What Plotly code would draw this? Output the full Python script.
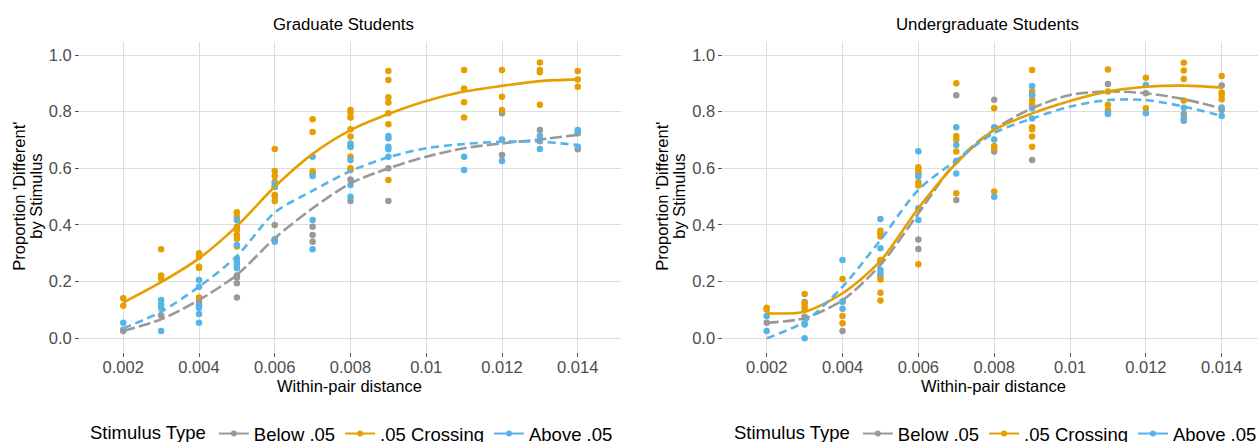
import plotly.graph_objects as go

# ---------------- data ----------------
categories = ["Below .05", ".05 Crossing", "Above .05"]
colors = ["#999999", "#E69F00", "#56B4E9"]
panel_titles = ["Graduate Students", "Undergraduate Students"]

x_tick_vals = [0.002, 0.004, 0.006, 0.008, 0.010, 0.012, 0.014]
x_tick_text = ["0.002", "0.004", "0.006", "0.008", "0.01", "0.012", "0.014"]
y_tick_vals = [0.0, 0.2, 0.4, 0.6, 0.8, 1.0]
y_tick_text = ["0.0", "0.2", "0.4", "0.6", "0.8", "1.0"]

# Graduate students - points
grad_below_x = [0.002, 0.002, 0.003, 0.004, 0.004, 0.005, 0.005, 0.005, 0.005, 0.006, 0.006, 0.006,
                0.007, 0.007, 0.007, 0.008, 0.008, 0.008, 0.009, 0.009, 0.012, 0.012, 0.013, 0.013,
                0.014, 0.014]
grad_below_y = [0.026, 0.030, 0.081, 0.130, 0.120, 0.222, 0.215, 0.194, 0.144, 0.500, 0.400, 0.350,
                0.394, 0.365, 0.341, 0.594, 0.561, 0.485, 0.600, 0.485, 0.794, 0.647, 0.735, 0.696,
                0.724, 0.667]

grad_cross_x = [0.002, 0.002, 0.003, 0.003, 0.003, 0.004, 0.004, 0.004, 0.004, 0.004,
                0.005, 0.005, 0.005, 0.005, 0.005, 0.005, 0.005,
                0.006, 0.006, 0.006, 0.006, 0.006, 0.006, 0.006,
                0.007, 0.007, 0.007, 0.007,
                0.008, 0.008, 0.008, 0.008, 0.008, 0.008, 0.008, 0.008,
                0.009, 0.009, 0.009, 0.009, 0.009, 0.009, 0.009,
                0.011, 0.011, 0.011, 0.011, 0.012, 0.012, 0.012,
                0.013, 0.013, 0.013, 0.013, 0.014, 0.014, 0.014]
grad_cross_y = [0.141, 0.115, 0.314, 0.222, 0.211, 0.300, 0.288, 0.253, 0.248, 0.144,
                0.445, 0.429, 0.394, 0.382, 0.365, 0.351, 0.324,
                0.668, 0.591, 0.573, 0.553, 0.535, 0.506, 0.485,
                0.773, 0.728, 0.590, 0.582,
                0.806, 0.795, 0.779, 0.738, 0.712, 0.676, 0.641, 0.600,
                0.944, 0.912, 0.851, 0.832, 0.794, 0.756, 0.559,
                0.947, 0.882, 0.833, 0.779, 0.947, 0.853, 0.806,
                0.974, 0.947, 0.939, 0.824, 0.944, 0.914, 0.888]

grad_above_x = [0.002, 0.003, 0.003, 0.003, 0.003,
                0.004, 0.004, 0.004, 0.004, 0.004, 0.004,
                0.005, 0.005, 0.005, 0.005, 0.005, 0.005,
                0.006, 0.006, 0.006, 0.006, 0.007, 0.007, 0.007, 0.007,
                0.008, 0.008, 0.008, 0.008, 0.008,
                0.009, 0.009, 0.009, 0.009, 0.009,
                0.011, 0.011, 0.012, 0.012, 0.013, 0.013, 0.014, 0.014, 0.014]
grad_above_y = [0.055, 0.135, 0.120, 0.108, 0.026,
                0.206, 0.182, 0.114, 0.108, 0.086, 0.055,
                0.418, 0.329, 0.282, 0.271, 0.259, 0.247,
                0.545, 0.535, 0.349, 0.341, 0.641, 0.573, 0.418, 0.314,
                0.688, 0.676, 0.629, 0.541, 0.500,
                0.714, 0.706, 0.676, 0.667, 0.641,
                0.641, 0.594, 0.702, 0.626, 0.714, 0.668, 0.735, 0.729, 0.676]

# Undergraduate students - points
ug_below_x = [0.002, 0.003, 0.003, 0.004, 0.004, 0.005, 0.006, 0.006, 0.006, 0.007, 0.007,
              0.008, 0.008, 0.009, 0.011, 0.012, 0.013, 0.013, 0.014, 0.014]
ug_below_y = [0.055, 0.128, 0.076, 0.129, 0.026, 0.271, 0.582, 0.349, 0.315, 0.858, 0.488,
              0.842, 0.659, 0.629, 0.898, 0.865, 0.792, 0.768, 0.892, 0.806]

ug_cross_x = [0.002, 0.002, 0.003, 0.003, 0.003, 0.003, 0.004, 0.004, 0.004,
              0.005, 0.005, 0.005, 0.005, 0.005, 0.005, 0.005, 0.005,
              0.006, 0.006, 0.006, 0.006, 0.006,
              0.007, 0.007, 0.007, 0.007, 0.007,
              0.008, 0.008, 0.008, 0.008,
              0.009, 0.009, 0.009, 0.009, 0.009, 0.009, 0.009, 0.009, 0.009,
              0.011, 0.011, 0.011, 0.011, 0.012, 0.012,
              0.013, 0.013, 0.013, 0.013, 0.014, 0.014, 0.014, 0.014]
ug_cross_y = [0.108, 0.102, 0.156, 0.124, 0.112, 0.102, 0.209, 0.079, 0.053,
              0.380, 0.371, 0.359, 0.276, 0.218, 0.208, 0.161, 0.133,
              0.604, 0.594, 0.551, 0.539, 0.261,
              0.900, 0.714, 0.702, 0.659, 0.512,
              0.812, 0.679, 0.671, 0.518,
              0.947, 0.871, 0.859, 0.841, 0.824, 0.745, 0.738, 0.712, 0.676,
              0.949, 0.871, 0.824, 0.806, 0.920, 0.812,
              0.973, 0.945, 0.915, 0.839, 0.926, 0.868, 0.859, 0.844]

ug_above_x = [0.002, 0.002, 0.003, 0.003, 0.003, 0.004, 0.004, 0.004,
              0.005, 0.005, 0.005, 0.005, 0.006, 0.006, 0.006, 0.006,
              0.007, 0.007, 0.007, 0.007, 0.008, 0.008, 0.008,
              0.009, 0.009, 0.009, 0.009, 0.011, 0.011, 0.012, 0.012,
              0.013, 0.013, 0.014, 0.014]
ug_above_y = [0.079, 0.026, 0.053, 0.049, 0.000, 0.276, 0.130, 0.104,
              0.421, 0.318, 0.241, 0.229, 0.660, 0.571, 0.459, 0.418,
              0.745, 0.682, 0.626, 0.582, 0.745, 0.702, 0.500,
              0.891, 0.859, 0.812, 0.776, 0.794, 0.792, 0.894, 0.794,
              0.814, 0.776, 0.815, 0.785]

# Smoothed fits
smooth_x = [0.002, 0.003, 0.004, 0.005, 0.006, 0.007, 0.008, 0.009, 0.010, 0.011, 0.012, 0.013, 0.014]
grad_below_fit = [0.026, 0.067, 0.135, 0.224, 0.353, 0.459, 0.547, 0.600, 0.641, 0.671, 0.688, 0.702, 0.718]
grad_cross_fit = [0.126, 0.198, 0.282, 0.396, 0.535, 0.651, 0.735, 0.792, 0.838, 0.871, 0.891, 0.908, 0.914]
grad_above_fit = [0.035, 0.094, 0.182, 0.290, 0.444, 0.521, 0.590, 0.639, 0.671, 0.686, 0.694, 0.694, 0.682]
ug_below_fit = [0.055, 0.071, 0.135, 0.259, 0.441, 0.624, 0.738, 0.812, 0.859, 0.871, 0.865, 0.844, 0.812]
ug_cross_fit = [0.088, 0.094, 0.159, 0.273, 0.459, 0.618, 0.735, 0.794, 0.838, 0.871, 0.888, 0.892, 0.885]
ug_above_fit = [0.000, 0.059, 0.182, 0.347, 0.524, 0.629, 0.725, 0.776, 0.818, 0.841, 0.841, 0.818, 0.785]

# ---------------- figure ----------------
W, H = 1258, 442
FONT = "Liberation Sans, Arial, sans-serif"
dashes = ["12px,4px", "solid", "8px,5px"]

panels = [
    dict(pts=[(grad_below_x, grad_below_y), (grad_cross_x, grad_cross_y), (grad_above_x, grad_above_y)],
         fits=[grad_below_fit, grad_cross_fit, grad_above_fit], xa="x", ya="y", legend="legend"),
    dict(pts=[(ug_below_x, ug_below_y), (ug_cross_x, ug_cross_y), (ug_above_x, ug_above_y)],
         fits=[ug_below_fit, ug_cross_fit, ug_above_fit], xa="x2", ya="y2", legend="legend2"),
]

fig = go.Figure()
for p in panels:
    for (px, py), c in zip(p["pts"], colors):
        fig.add_trace(go.Scatter(x=px, y=py, mode="markers", xaxis=p["xa"], yaxis=p["ya"],
                                 marker=dict(color=c, size=6.5), showlegend=False))
    for fit, c, d in zip(p["fits"], colors, dashes):
        fig.add_trace(go.Scatter(x=smooth_x, y=fit, mode="lines", xaxis=p["xa"], yaxis=p["ya"],
                                 line=dict(color=c, width=2.6, dash=d, shape="spline", smoothing=0.8),
                                 showlegend=False))
    for name, c in zip(categories, colors):
        fig.add_trace(go.Scatter(x=[None], y=[None], mode="lines+markers", name=name,
                                 xaxis=p["xa"], yaxis=p["ya"], legend=p["legend"],
                                 line=dict(color=c, width=2), marker=dict(color=c, size=6)))

x_left = [80 / W, 621 / W]
x_right = [723.4 / W, 1.0]
y_dom = [1 - 351.7 / H, 1 - 41.7 / H]
px_per_unit = 455 / 0.012
pad = (123.3 - 80) / px_per_unit
xr_left = [0.002 - pad, 0.014 + pad]
xr_right = [0.002 - pad, 0.014 + (1258 - 1221.7) / px_per_unit]
yr = [-0.0473, 1.047]

axis_common = dict(showline=False, zeroline=False, gridcolor="#DCDCDC", gridwidth=1,
                   ticks="outside", ticklen=4, tickwidth=1, tickcolor="#555555",
                   tickfont=dict(family=FONT, size=16.5, color="#4D4D4D"))

fig.update_layout(
    width=W, height=H,
    margin=dict(l=0, r=0, t=0, b=0, autoexpand=False),
    plot_bgcolor="white", paper_bgcolor="white",
    font=dict(family=FONT, color="#000000"),
    xaxis=dict(domain=x_left, range=xr_left, tickvals=x_tick_vals, ticktext=x_tick_text, anchor="y",
               ticklabelstandoff=-4, **axis_common),
    yaxis=dict(domain=y_dom, range=yr, tickvals=y_tick_vals, ticktext=y_tick_text, anchor="x", **axis_common),
    xaxis2=dict(domain=x_right, range=xr_right, tickvals=x_tick_vals, ticktext=x_tick_text, anchor="y2",
                ticklabelstandoff=-4, **axis_common),
    yaxis2=dict(domain=y_dom, range=yr, tickvals=y_tick_vals, ticktext=y_tick_text, anchor="x2", **axis_common),
)

leg_common = dict(orientation="h", yanchor="middle", y=1 - 434 / H, xanchor="left",
                  font=dict(family=FONT, size=18.5, color="#000000"), bgcolor="rgba(0,0,0,0)",
                  title=dict(text="Stimulus Type", side="left", font=dict(family=FONT, size=18.5, color="#000000")),
                  itemclick=False, itemdoubleclick=False)
fig.update_layout(legend=dict(x=88 / W, **leg_common), legend2=dict(x=732 / W, **leg_common))

ann = []
title_cx = [343.5, 987.0]
xtitle_cx = [349.5, 993.0]
ytitle_x = [[19, 36], [662, 679]]
for i in range(2):
    ann.append(dict(text=panel_titles[i], x=title_cx[i] / W, y=1 - 24 / H, xref="paper", yref="paper",
                    showarrow=False, xanchor="center", yanchor="middle",
                    font=dict(family=FONT, size=16.8, color="#000000")))
    ann.append(dict(text="Within-pair distance", x=xtitle_cx[i] / W, y=1 - 386 / H, xref="paper", yref="paper",
                    showarrow=False, xanchor="center", yanchor="middle",
                    font=dict(family=FONT, size=16.5, color="#000000")))
    for line, lx in zip(["Proportion 'Different'", "by Stimulus"], ytitle_x[i]):
        ann.append(dict(text=line, x=lx / W, y=1 - 196.7 / H, xref="paper", yref="paper", textangle=-90,
                        showarrow=False, xanchor="center", yanchor="middle",
                        font=dict(family=FONT, size=16.5, color="#000000")))
fig.update_layout(annotations=ann)

fig.write_html("out.html")
